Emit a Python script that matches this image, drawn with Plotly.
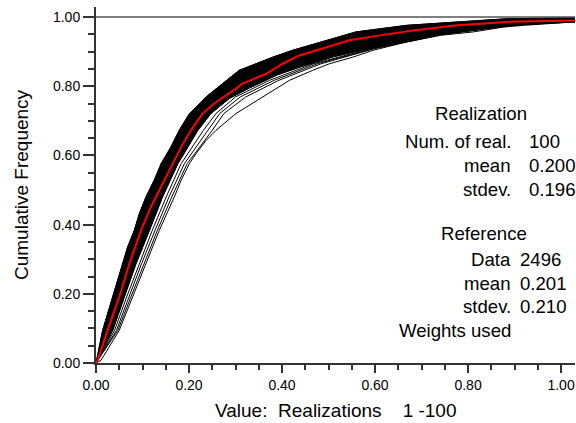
import plotly.graph_objects as go

# ---------------- data ----------------
# upper (left) envelope of the dense realization bundle
band_hi_x = [0, 0.0143, 0.0358, 0.0573, 0.068, 0.0824, 0.093, 0.1075, 0.125, 0.14, 0.161, 0.179, 0.201, 0.2366, 0.28, 0.308, 0.344, 0.38, 0.423, 0.473, 0.523, 0.559, 0.668, 0.811, 0.883, 1.03]
band_hi_y = [0, 0.0945, 0.191, 0.287, 0.335, 0.3835, 0.431, 0.48, 0.528, 0.576, 0.624, 0.6725, 0.721, 0.769, 0.817, 0.846, 0.865, 0.884, 0.904, 0.923, 0.942, 0.957, 0.976, 0.990, 0.995, 0.998]
# lower (right) edge of the dense realization bundle
band_lo_x = [0, 0.036, 0.061, 0.086, 0.115, 0.143, 0.176, 0.219, 0.247, 0.287, 0.33, 0.39, 0.44, 0.51, 0.632, 0.74, 0.883, 1.03]
band_lo_y = [0, 0.0945, 0.191, 0.287, 0.3835, 0.48, 0.576, 0.6725, 0.721, 0.765, 0.795, 0.833, 0.856, 0.885, 0.923, 0.952, 0.976, 0.986]

# sparse realizations between the bundle and the outlier
sparse_y = [0, 0.0945, 0.191, 0.287, 0.3835, 0.48, 0.576, 0.6725, 0.721, 0.769, 0.817, 0.865, 0.909, 0.95, 0.976, 0.988]
sparse1_x = [0, 0.040, 0.066, 0.093, 0.121, 0.151, 0.183, 0.231, 0.258, 0.300, 0.373, 0.468, 0.592, 0.738, 0.890, 1.03]
sparse2_x = [0, 0.044, 0.071, 0.098, 0.127, 0.157, 0.190, 0.240, 0.266, 0.310, 0.383, 0.476, 0.597, 0.743, 0.897, 1.03]
sparse3_x = [0, 0.047, 0.075, 0.103, 0.132, 0.163, 0.196, 0.250, 0.275, 0.322, 0.393, 0.484, 0.600, 0.748, 0.900, 1.03]

# outlying realization (rightmost curve)
outlier_x = [0, 0.0108, 0.050, 0.079, 0.1075, 0.136, 0.1685, 0.183, 0.2007, 0.215, 0.2366, 0.258, 0.301, 0.358, 0.416, 0.466, 0.502, 0.552, 0.596, 0.668, 0.74, 0.811, 0.876, 0.919, 1.03]
outlier_y = [0, 0.008, 0.0945, 0.191, 0.287, 0.3835, 0.48, 0.528, 0.576, 0.605, 0.643, 0.6725, 0.721, 0.769, 0.817, 0.846, 0.865, 0.884, 0.904, 0.928, 0.947, 0.957, 0.971, 0.976, 0.986]

# reference data distribution (red)
ref_x = [0, 0.0036, 0.025, 0.050, 0.0717, 0.0968, 0.118, 0.129, 0.147, 0.165, 0.183, 0.204, 0.229, 0.254, 0.276, 0.301, 0.315, 0.366, 0.401, 0.437, 0.487, 0.545, 0.611, 0.682, 0.776, 0.883, 1.03]
ref_y = [0, 0.008, 0.0945, 0.191, 0.287, 0.3835, 0.451, 0.48, 0.528, 0.576, 0.624, 0.6725, 0.721, 0.750, 0.769, 0.793, 0.8075, 0.836, 0.865, 0.889, 0.909, 0.933, 0.947, 0.961, 0.976, 0.986, 0.990]

tick_vals = [0.0, 0.2, 0.4, 0.6, 0.8, 1.0]

real_title = "Realization"
real_labels = ["Num. of real.", "mean", "stdev."]
real_values = ["100", "0.200", "0.196"]
ref_title = "Reference"
ref_labels = ["Data", "mean", "stdev.", "Weights used"]
ref_values = ["2496", "0.201", "0.210", ""]

x_title = "Value:\u00a0\u00a0Realizations\u00a0\u00a0\u00a0\u00a01\u00a0-100"
y_title = "Cumulative Frequency"

# ---------------- figure ----------------
FONT = "Liberation Sans, Arial, Helvetica, sans-serif"
W, H = 576, 423
ML, MR, MT, MB = 96, 1, 7, 60
XMAX, YMAX = 1.030, 1.029

fig = go.Figure()

# dense bundle as a filled polygon between its envelopes
fig.add_trace(go.Scatter(
    x=band_hi_x + band_lo_x[::-1], y=band_hi_y + band_lo_y[::-1],
    mode="lines", fill="toself", fillcolor="black",
    line=dict(color="black", width=1), hoverinfo="skip"))

for xs, ys in [(band_hi_x, band_hi_y), (band_lo_x, band_lo_y),
               (sparse1_x, sparse_y), (sparse2_x, sparse_y),
               (sparse3_x, sparse_y), (outlier_x, outlier_y)]:
    fig.add_trace(go.Scatter(x=xs, y=ys, mode="lines",
                             line=dict(color="black", width=1)))

fig.add_trace(go.Scatter(x=ref_x, y=ref_y, mode="lines",
                         line=dict(color="#ff0000", width=2)))

# horizontal reference line at 1.0
fig.add_shape(type="line", xref="x", yref="y", x0=0, x1=XMAX, y0=1.0, y1=1.0,
              line=dict(color="#555555", width=1.5))

def px_to_x(px):
    return (px - ML) / 465.0

def py_to_y(py):
    return (362.7 - py) / 346.0

ann = []
tf = dict(family=FONT, size=18.6, color="black")
ann.append(dict(x=px_to_x(481), y=py_to_y(113), text=real_title, xanchor="center"))
for i, (lab, val) in enumerate(zip(real_labels, real_values)):
    yy = py_to_y(141 + 24 * i)
    ann.append(dict(x=px_to_x(513), y=yy, text=lab, xanchor="right"))
    ann.append(dict(x=px_to_x(527), y=yy, text=val, xanchor="left"))
ann.append(dict(x=px_to_x(484), y=py_to_y(233), text=ref_title, xanchor="center"))
for i, (lab, val) in enumerate(zip(ref_labels, ref_values)):
    yy = py_to_y(259 + 23.7 * i)
    ann.append(dict(x=px_to_x(513), y=yy, text=lab, xanchor="right"))
    if val:
        ann.append(dict(x=px_to_x(518), y=yy, text=val, xanchor="left"))
for a in ann:
    a.update(xref="x", yref="y", yanchor="middle", showarrow=False, font=tf)
    fig.add_annotation(**a)

tt = dict(family=FONT, size=19, color="black")
plot_h = H - MT - MB
plot_w = W - ML - MR
fig.add_annotation(x=0.5, y=(363 - 410) / plot_h, xref="paper", yref="paper",
                   text=x_title, showarrow=False, font=tt,
                   xanchor="center", yanchor="middle")
fig.add_annotation(x=(21 - ML) / plot_w, y=0.5, xref="paper", yref="paper",
                   text=y_title, showarrow=False, font=tt, textangle=-90,
                   xanchor="center", yanchor="middle")

axis_common = dict(showgrid=False, zeroline=False, showline=True,
                   linecolor="#333333", linewidth=2, ticks="outside",
                   tickcolor="#333333", tickwidth=1.5,
                   tickvals=tick_vals, tickformat=".2f",
                   tickfont=dict(family=FONT, size=14, color="black"))

fig.update_layout(
    width=W, height=H,
    margin=dict(l=ML, r=MR, t=MT, b=MB, pad=0),
    paper_bgcolor="white", plot_bgcolor="white",
    showlegend=False,
    xaxis=dict(range=[0, XMAX], ticklen=8,
               minor=dict(dtick=0.05, tick0=0, ticks="outside", ticklen=5,
                          tickcolor="#333333", tickwidth=1.5),
               **axis_common),
    yaxis=dict(range=[0, YMAX], ticklen=11,
               minor=dict(dtick=0.05, tick0=0, ticks="outside", ticklen=6,
                          tickcolor="#333333", tickwidth=1.5),
               **axis_common),
)

fig.write_html("out.html")
